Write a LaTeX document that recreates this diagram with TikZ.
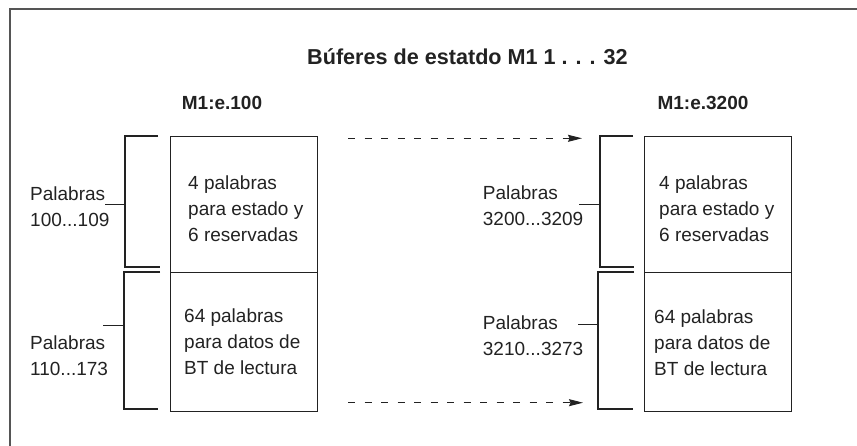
\documentclass[tikz,border=0pt]{standalone}
\usepackage{fontspec}
\setmainfont{Liberation Sans}
\usetikzlibrary{arrows.meta}
\definecolor{ink}{HTML}{222222}
\definecolor{framegray}{HTML}{555555}
\begin{document}
\begin{tikzpicture}[x=1pt,y=-1pt,
  txt/.style={anchor=base west, inner sep=0pt, align=left, text=ink, font=\fontsize{19}{26}\selectfont},
  hdr/.style={anchor=base, inner sep=0pt, text=ink, font=\fontsize{19}{26}\selectfont\bfseries},
  ttl/.style={anchor=base, inner sep=0pt, text=ink, font=\fontsize{21.6}{26}\selectfont\bfseries},
  cell/.style={draw=ink, line width=1.1pt, anchor=north west, inner sep=0pt, minimum width=147pt},
  brk/.style={draw=ink, line width=1.1pt},
  tick/.style={draw=ink, line width=0.9pt},
  darr/.style={draw=ink, line width=0.9pt, dash pattern=on 7pt off 9.5pt, -{Stealth[length=14pt,width=7pt,inset=1.5pt]}}
]
\useasboundingbox (0,0) rectangle (857,446);
% outer frame (top and left only)
\draw[framegray, line width=2pt] (857,9) -- (9.5,9) -- (9.5,446);

% title and headers
\node[ttl] (title) at (467.5,65) {Búferes de estatdo M1 1 . . . 32};
\node[hdr] (hL) at (222,110) {M1:e.100};
\node[hdr] (hR) at (703,110) {M1:e.3200};

% left buffer
\node[cell, minimum height=136pt] (L1) at (170,136) {};
\node[cell, minimum height=139pt] (L2) at (170,272) {};
\node[txt] (L1t) at (188,242) {4 palabras\\para estado y\\6 reservadas};
\node[txt] (L2t) at (184,374.3) {64 palabras\\para datos de\\BT de lectura};

% right buffer
\node[cell, minimum height=136pt] (R1) at (644,136) {};
\node[cell, minimum height=139pt] (R2) at (644,272) {};
\node[txt] (R1t) at (659,242) {4 palabras\\para estado y\\6 reservadas};
\node[txt] (R2t) at (654,375) {64 palabras\\para datos de\\BT de lectura};

% labels
\node[txt] (lab1) at (30,226.7) {Palabras\\100...109};
\node[txt] (lab2) at (30,375) {Palabras\\110...173};
\node[txt] (lab3) at (482.7,226) {Palabras\\3200...3209};
\node[txt] (lab4) at (482.7,355.5) {Palabras\\3210...3273};

% bracket coordinates
\coordinate (a1s) at (158,136); \coordinate (a1c) at (125,136); \coordinate (a1d) at (125,267); \coordinate (a1e) at (160,267);
\coordinate (a2s) at (160,272); \coordinate (a2c) at (124,272); \coordinate (a2d) at (124,409); \coordinate (a2e) at (158,409);
\coordinate (b1s) at (633,136); \coordinate (b1c) at (600,136); \coordinate (b1d) at (600,267); \coordinate (b1e) at (634,267);
\coordinate (b2s) at (634,272); \coordinate (b2c) at (598,272); \coordinate (b2d) at (598,409); \coordinate (b2e) at (633,409);
\draw[brk] (a1s) -- (a1c) -- (a1d) -- (a1e);
\draw[brk] (a2s) -- (a2c) -- (a2d) -- (a2e);
\draw[brk] (b1s) -- (b1c) -- (b1d) -- (b1e);
\draw[brk] (b2s) -- (b2c) -- (b2d) -- (b2e);

% ticks from labels to brackets
\coordinate (t1) at (105,204); \coordinate (t1b) at (125,204);
\coordinate (t2) at (103,325); \coordinate (t2b) at (124,325);
\coordinate (t3) at (579,204); \coordinate (t3b) at (600,204);
\coordinate (t4) at (578,324); \coordinate (t4b) at (598,324);
\draw[tick] (t1) -- (t1b);
\draw[tick] (t2) -- (t2b);
\draw[tick] (t3) -- (t3b);
\draw[tick] (t4) -- (t4b);

% dashed arrows
\coordinate (d1s) at (348,138.3); \coordinate (d1e) at (582,138.3);
\coordinate (d2s) at (348,402.7); \coordinate (d2e) at (583,402.7);
\draw[darr] (d1s) -- (d1e);
\draw[darr] (d2s) -- (d2e);
\end{tikzpicture}
\end{document}
